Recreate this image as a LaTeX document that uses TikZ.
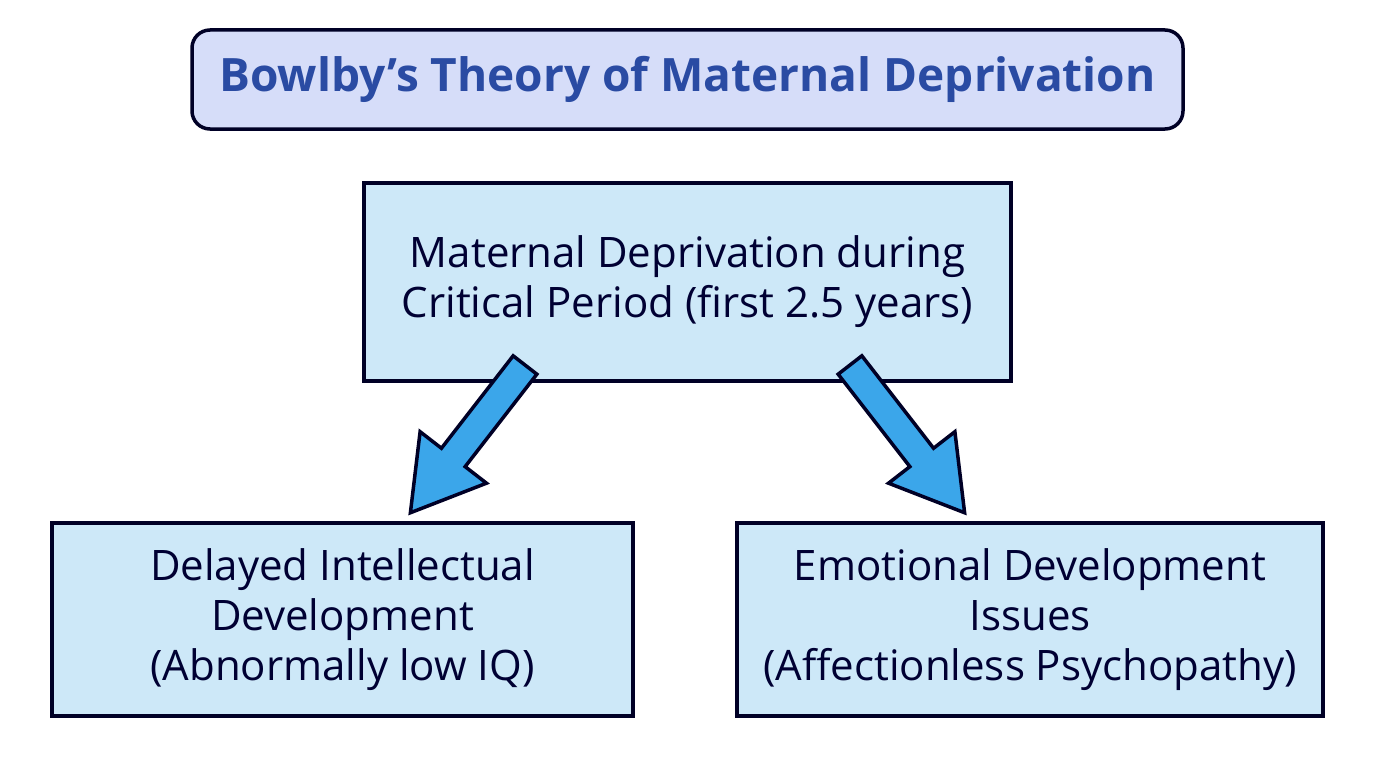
\documentclass[tikz,border=0pt]{standalone}
\usepackage{fontspec}
\setmainfont{Open Sans}
\begin{document}
\begin{tikzpicture}[x=1pt,y=-1pt,
  box/.style={draw=black!85!blue,line width=3.5pt,fill=boxfill,inner sep=0pt,align=center,font=\fontsize{42}{50}\selectfont,text=black!80!blue},
  arr/.style={draw=black!85!blue,line width=3.5pt,fill=arrfill,line join=miter}]
\definecolor{boxfill}{HTML}{CDE8F8}
\definecolor{titlefill}{HTML}{D6DDF9}
\definecolor{titletext}{HTML}{2A4BA3}
\definecolor{arrfill}{HTML}{3BA6EA}
\useasboundingbox (0,0) rectangle (1376,768);
\fill[white] (0,0) rectangle (1376,768);
\node[draw=black!85!blue,line width=3.5pt,fill=titlefill,rounded corners=18pt,minimum width=991pt,minimum height=99pt,font=\fontsize{46}{50}\selectfont\bfseries,text=titletext] (title) at (687.5,79.5) {Bowlby’s Theory of Maternal Deprivation};
\node[box,minimum width=647pt,minimum height=198pt] (mid) at (687.5,282) {Maternal Deprivation during\\Critical Period (first 2.5 years)};
\node[box,minimum width=581pt,minimum height=193pt] (left) at (342.5,619.5) {Delayed Intellectual\\Development\\(Abnormally low IQ)};
\node[box,minimum width=586pt,minimum height=193pt] (right) at (1030,619.5) {Emotional Development\\Issues\\(Affectionless Psychopathy)};
\coordinate (la) at (525,365);
\coordinate (ra) at (850,365);
\draw[arr,shift={(la)},rotate=232.2] (0,15) -- (117,15) -- (117,42) -- (187,0) -- (117,-42) -- (117,-15) -- (0,-15) -- cycle;
\draw[arr,shift={(ra)},rotate=307.8] (0,15) -- (117,15) -- (117,42) -- (187,0) -- (117,-42) -- (117,-15) -- (0,-15) -- cycle;
\end{tikzpicture}
\end{document}
